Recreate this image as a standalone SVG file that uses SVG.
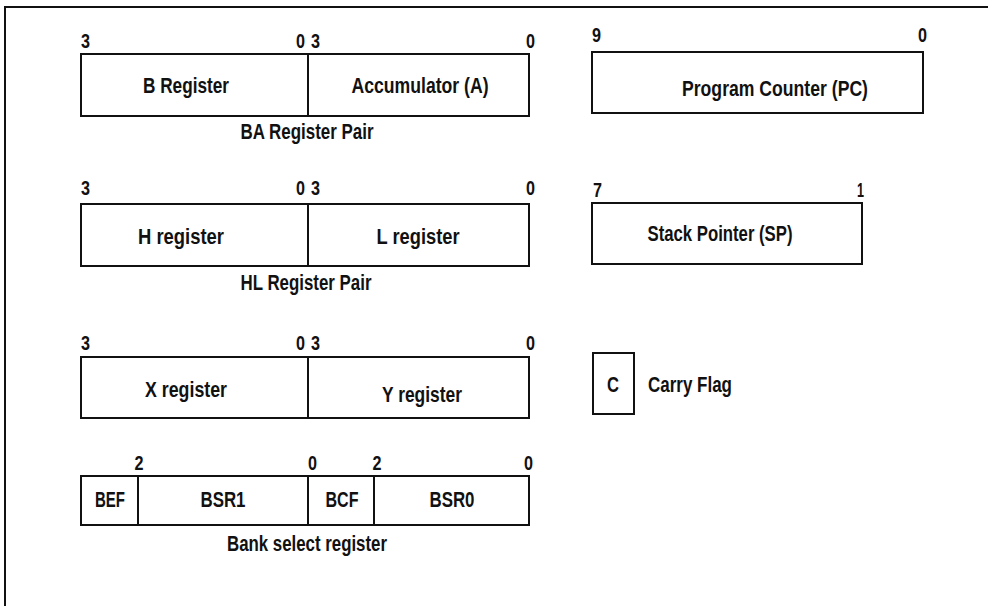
<svg xmlns="http://www.w3.org/2000/svg" width="988" height="606" viewBox="0 0 988 606">
<style>
  .box{fill:#fff;stroke:#111;stroke-width:2}
  .ln{stroke:#111;stroke-width:2;fill:none}
  text{font-family:"Liberation Sans Narrow","Liberation Sans",Arial,sans-serif;font-weight:bold;font-size:22px;fill:#111}
  .c{text-anchor:middle}
  .e{text-anchor:end}
  .d{font-size:21px}
</style>
<rect width="988" height="606" fill="#fff"/>
<path class="ln" d="M5,606 V7 H988"/>
<g id="connectors"/>
<g id="ba-pair">
  <rect class="box" x="81" y="54" width="448" height="62"/>
  <line class="ln" x1="308" y1="54" x2="308" y2="116"/>
  <text class="d" x="81" y="48" textLength="9" lengthAdjust="spacingAndGlyphs">3</text>
  <text class="d e" x="305" y="48" textLength="9" lengthAdjust="spacingAndGlyphs">0</text>
  <text class="d" x="311" y="48" textLength="9" lengthAdjust="spacingAndGlyphs">3</text>
  <text class="d e" x="535" y="48" textLength="9" lengthAdjust="spacingAndGlyphs">0</text>
  <text class="c" x="186" y="93" textLength="86" lengthAdjust="spacingAndGlyphs">B Register</text>
  <text class="c" x="420" y="93" textLength="137" lengthAdjust="spacingAndGlyphs">Accumulator (A)</text>
  <text class="c" x="307" y="139" textLength="133" lengthAdjust="spacingAndGlyphs">BA Register Pair</text>
</g>
<g id="hl-pair">
  <rect class="box" x="81" y="204" width="448" height="62"/>
  <line class="ln" x1="308" y1="204" x2="308" y2="266"/>
  <text class="d" x="81" y="195" textLength="9" lengthAdjust="spacingAndGlyphs">3</text>
  <text class="d e" x="305" y="195" textLength="9" lengthAdjust="spacingAndGlyphs">0</text>
  <text class="d" x="311" y="195" textLength="9" lengthAdjust="spacingAndGlyphs">3</text>
  <text class="d e" x="535" y="195" textLength="9" lengthAdjust="spacingAndGlyphs">0</text>
  <text class="c" x="181" y="244" textLength="86" lengthAdjust="spacingAndGlyphs">H register</text>
  <text class="c" x="418" y="244" textLength="83" lengthAdjust="spacingAndGlyphs">L register</text>
  <text class="c" x="306" y="290" textLength="131" lengthAdjust="spacingAndGlyphs">HL Register Pair</text>
</g>
<g id="xy-pair">
  <rect class="box" x="81" y="357" width="448" height="61"/>
  <line class="ln" x1="308" y1="357" x2="308" y2="418"/>
  <text class="d" x="81" y="350" textLength="9" lengthAdjust="spacingAndGlyphs">3</text>
  <text class="d e" x="305" y="350" textLength="9" lengthAdjust="spacingAndGlyphs">0</text>
  <text class="d" x="311" y="350" textLength="9" lengthAdjust="spacingAndGlyphs">3</text>
  <text class="d e" x="535" y="350" textLength="9" lengthAdjust="spacingAndGlyphs">0</text>
  <text class="c" x="186" y="397" textLength="82" lengthAdjust="spacingAndGlyphs">X register</text>
  <text class="c" x="422" y="402" textLength="80" lengthAdjust="spacingAndGlyphs">Y register</text>
</g>
<g id="bank-select">
  <rect class="box" x="81" y="476" width="448" height="49"/>
  <line class="ln" x1="138" y1="476" x2="138" y2="525"/>
  <line class="ln" x1="308" y1="476" x2="308" y2="525"/>
  <line class="ln" x1="374" y1="476" x2="374" y2="525"/>
  <text class="d c" x="139" y="470" textLength="9" lengthAdjust="spacingAndGlyphs">2</text>
  <text class="d" x="308" y="470" textLength="9" lengthAdjust="spacingAndGlyphs">0</text>
  <text class="d c" x="377" y="470" textLength="9" lengthAdjust="spacingAndGlyphs">2</text>
  <text class="d e" x="533" y="470" textLength="9" lengthAdjust="spacingAndGlyphs">0</text>
  <text class="c" x="110" y="507" textLength="30" lengthAdjust="spacingAndGlyphs">BEF</text>
  <text class="c" x="223" y="507" textLength="45" lengthAdjust="spacingAndGlyphs">BSR1</text>
  <text class="c" x="342" y="507" textLength="33" lengthAdjust="spacingAndGlyphs">BCF</text>
  <text class="c" x="452" y="507" textLength="45" lengthAdjust="spacingAndGlyphs">BSR0</text>
  <text class="c" x="307" y="551" textLength="160" lengthAdjust="spacingAndGlyphs">Bank select register</text>
</g>
<g id="program-counter">
  <rect class="box" x="592" y="52" width="331" height="61"/>
  <text class="d" x="592" y="42" textLength="9" lengthAdjust="spacingAndGlyphs">9</text>
  <text class="d e" x="927" y="42" textLength="9" lengthAdjust="spacingAndGlyphs">0</text>
  <text class="c" x="775" y="96" textLength="186" lengthAdjust="spacingAndGlyphs">Program Counter (PC)</text>
</g>
<g id="stack-pointer">
  <rect class="box" x="592" y="203" width="270" height="61"/>
  <text class="d" x="593" y="197" textLength="9" lengthAdjust="spacingAndGlyphs">7</text>
  <text class="d e" x="864" y="197" textLength="7" lengthAdjust="spacingAndGlyphs">1</text>
  <text class="c" x="720" y="241" textLength="145" lengthAdjust="spacingAndGlyphs">Stack Pointer (SP)</text>
</g>
<g id="carry-flag">
  <rect class="box" x="593" y="353" width="41" height="61"/>
  <text class="c" x="613" y="392" textLength="12" lengthAdjust="spacingAndGlyphs">C</text>
  <text x="648" y="392" textLength="84" lengthAdjust="spacingAndGlyphs">Carry Flag</text>
</g>
</svg>
